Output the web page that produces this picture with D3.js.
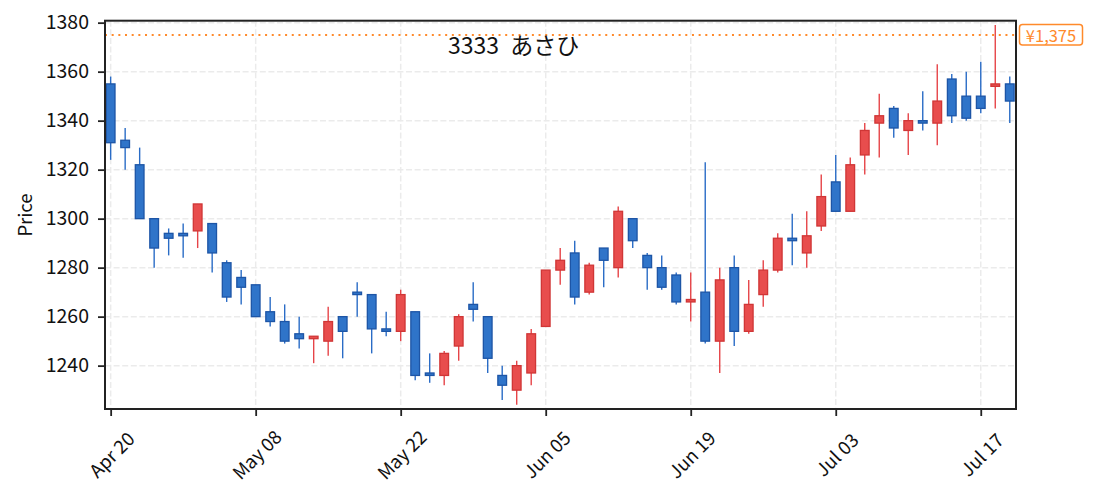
<!DOCTYPE html>
<html>
<head>
<meta charset="utf-8">
<script src="https://cdn.jsdelivr.net/npm/d3@7"></script>
<style>
  html, body { margin: 0; padding: 0; background: #fff; }
  text { font-family: 'Noto Sans CJK JP', 'Noto Sans', sans-serif; fill: #111; }
</style>
</head>
<body>
<div id="chart"></div>
<script>
// trading days, Apr 20 - Jul 21 (2020)
const dates = [
  '2020-04-20', '2020-04-21', '2020-04-22', '2020-04-23', '2020-04-24', '2020-04-27', '2020-04-28', '2020-04-30',
  '2020-05-01', '2020-05-07', '2020-05-08', '2020-05-11', '2020-05-12', '2020-05-13', '2020-05-14', '2020-05-15',
  '2020-05-18', '2020-05-19', '2020-05-20', '2020-05-21', '2020-05-22', '2020-05-25', '2020-05-26', '2020-05-27',
  '2020-05-28', '2020-05-29', '2020-06-01', '2020-06-02', '2020-06-03', '2020-06-04', '2020-06-05', '2020-06-08',
  '2020-06-09', '2020-06-10', '2020-06-11', '2020-06-12', '2020-06-15', '2020-06-16', '2020-06-17', '2020-06-18',
  '2020-06-19', '2020-06-22', '2020-06-23', '2020-06-24', '2020-06-25', '2020-06-26', '2020-06-29', '2020-06-30',
  '2020-07-01', '2020-07-02', '2020-07-03', '2020-07-06', '2020-07-07', '2020-07-08', '2020-07-09', '2020-07-10',
  '2020-07-13', '2020-07-14', '2020-07-15', '2020-07-16', '2020-07-17', '2020-07-20', '2020-07-21'
]
const open = [
  1355, 1332, 1322, 1300, 1294, 1294, 1295, 1298, 1282, 1276, 1273, 1262, 1258, 1253, 1251, 1250,
  1260, 1270, 1269, 1255, 1254, 1262, 1237, 1236, 1248, 1265, 1260, 1236, 1230, 1237, 1256, 1279,
  1286, 1270, 1288, 1280, 1300, 1285, 1280, 1277, 1266, 1270, 1250, 1280, 1254, 1269, 1279, 1292,
  1286, 1297, 1315, 1303, 1326, 1339, 1345, 1336, 1340, 1339, 1357, 1350, 1350, 1354, 1355
]
const high = [
  1358, 1337, 1329, 1300, 1296, 1298, 1306, 1298, 1283, 1279, 1273, 1268, 1265, 1260, 1252, 1264,
  1260, 1274, 1269, 1262, 1271, 1262, 1245, 1246, 1261, 1274, 1260, 1240, 1242, 1255, 1279, 1288,
  1291, 1282, 1288, 1305, 1300, 1286, 1285, 1278, 1278, 1323, 1280, 1285, 1275, 1283, 1294, 1302,
  1303, 1318, 1326, 1325, 1339, 1351, 1346, 1343, 1352, 1363, 1359, 1360, 1364, 1379, 1358
]
const low = [
  1324, 1320, 1300, 1280, 1285, 1284, 1288, 1278, 1266, 1265, 1260, 1256, 1249, 1247, 1241, 1244,
  1243, 1260, 1245, 1252, 1250, 1234, 1233, 1232, 1242, 1258, 1237, 1226, 1224, 1232, 1256, 1273,
  1265, 1269, 1272, 1276, 1288, 1271, 1271, 1265, 1258, 1249, 1237, 1248, 1253, 1264, 1278, 1281,
  1280, 1295, 1303, 1303, 1318, 1325, 1333, 1326, 1336, 1330, 1339, 1340, 1343, 1345, 1339
]
const close = [
  1331, 1329, 1300, 1288, 1292, 1293, 1306, 1286, 1268, 1272, 1260, 1258, 1250, 1251, 1252, 1258,
  1254, 1269, 1255, 1254, 1269, 1236, 1236, 1245, 1260, 1263, 1243, 1232, 1240, 1253, 1279, 1283,
  1268, 1281, 1283, 1303, 1291, 1280, 1272, 1266, 1267, 1250, 1275, 1254, 1265, 1279, 1292, 1291,
  1293, 1309, 1303, 1322, 1336, 1342, 1337, 1340, 1339, 1348, 1342, 1341, 1345, 1355, 1348
]
const yTicks = [1240, 1260, 1280, 1300, 1320, 1340, 1360, 1380]
const xTickIndex = [0, 10, 20, 30, 40, 50, 60]
const refPrice = 1375
const title = '3333 あさひ'

const W = 1095
const H = 499
const plot = { left: 105, right: 1016, top: 20.7, bottom: 409 }

const parse = d3.timeParse('%Y-%m-%d')
const fmt = d3.timeFormat('%b %d')
const data = dates.map((d, i) => ({
  i, date: parse(d), o: open[i], h: high[i], l: low[i], c: close[i]
}))

const x = d3.scaleLinear()
  .domain([-0.39, data.length - 0.57])
  .range([plot.left, plot.right])

const y = d3.scaleLinear()
  .domain([1222.3, 1380.8])
  .range([plot.bottom, plot.top])

const bodyW = (x(1) - x(0)) * 0.6

const col = {
  up: { fill: '#e84d4d', edge: '#d03636', wick: '#e64448' },
  down: { fill: '#2f74c9', edge: '#1d55a6', wick: '#2a6cc6' }
}

const svg = d3.select('#chart').append('svg')
  .attr('width', W)
  .attr('height', H)

// grid
const grid = svg.append('g').attr('class', 'grid')
grid.selectAll('line.h')
  .data(yTicks)
  .join('line')
  .attr('x1', plot.left).attr('x2', plot.right)
  .attr('y1', d => y(d)).attr('y2', d => y(d))
  .attr('stroke', '#ebebeb')
  .attr('stroke-width', 1.5)
  .attr('stroke-dasharray', '6,2.6')
grid.selectAll('line.v')
  .data(xTickIndex)
  .join('line')
  .attr('x1', d => x(d)).attr('x2', d => x(d))
  .attr('y1', plot.top).attr('y2', plot.bottom)
  .attr('stroke', '#ebebeb')
  .attr('stroke-width', 1.5)
  .attr('stroke-dasharray', '6,2.6')

// reference price line
svg.append('line')
  .attr('x1', plot.left).attr('x2', plot.right)
  .attr('y1', y(refPrice)).attr('y2', y(refPrice))
  .attr('stroke', '#ff8a2b')
  .attr('stroke-width', 2)
  .attr('stroke-dasharray', '2,4.67')

// title
svg.append('text')
  .attr('x', 448)
  .attr('y', 54)
  .style('font-size', '23px')
  .style('word-spacing', '6px')
  .text(title)

// candles
const candles = svg.append('g').attr('class', 'candles')
const side = d => d.c >= d.o ? col.up : col.down

candles.selectAll('line.wick')
  .data(data)
  .join('line')
  .attr('class', 'wick')
  .attr('x1', d => x(d.i)).attr('x2', d => x(d.i))
  .attr('y1', d => y(d.h)).attr('y2', d => y(d.l))
  .attr('stroke', d => side(d).wick)
  .attr('stroke-width', 1.4)

candles.selectAll('rect.body')
  .data(data)
  .join('rect')
  .attr('class', 'body')
  .attr('x', d => x(d.i) - bodyW / 2)
  .attr('width', bodyW)
  .attr('y', d => y(Math.max(d.o, d.c)))
  .attr('height', d => Math.max(1.2, Math.abs(y(d.o) - y(d.c))))
  .attr('fill', d => side(d).fill)
  .attr('stroke', d => side(d).edge)
  .attr('stroke-width', 1.3)

// axes
const yAxis = d3.axisLeft(y)
  .tickValues(yTicks)
  .tickFormat(d3.format('d'))
  .tickSize(7)
  .tickPadding(9)
const gy = svg.append('g')
  .attr('transform', `translate(${plot.left},0)`)
  .call(yAxis)
gy.select('.domain').remove()
gy.selectAll('.tick line').attr('stroke', '#222').attr('stroke-width', 1.8)
gy.selectAll('.tick text').style('font-size', '19.5px').attr('fill', '#111')

const xAxis = d3.axisBottom(x)
  .tickValues(xTickIndex)
  .tickFormat(i => fmt(data[i].date))
  .tickSize(7)
const gx = svg.append('g')
  .attr('transform', `translate(0,${plot.bottom})`)
  .call(xAxis)
gx.select('.domain').remove()
gx.selectAll('.tick line').attr('stroke', '#222').attr('stroke-width', 1.8)
gx.selectAll('.tick text')
  .style('font-size', '18.5px')
  .attr('fill', '#111')
  .attr('text-anchor', 'middle')
  .attr('dominant-baseline', 'central')
  .attr('x', 0)
  .attr('y', 0)
  .attr('dy', null)
  .attr('transform', 'translate(0,45) rotate(-45)')

// frame
svg.append('rect')
  .attr('x', plot.left).attr('y', plot.top)
  .attr('width', plot.right - plot.left)
  .attr('height', plot.bottom - plot.top)
  .attr('fill', 'none')
  .attr('stroke', '#222')
  .attr('stroke-width', 2)

// y label
svg.append('text')
  .attr('transform', `translate(32,215) rotate(-90)`)
  .attr('text-anchor', 'middle')
  .style('font-size', '18.5px')
  .text('Price')

// price tag
const tag = svg.append('g')
  .attr('transform', `translate(1019.5,${y(refPrice)})`)
tag.append('rect')
  .attr('x', 0).attr('y', -10.5)
  .attr('width', 63).attr('height', 20.5)
  .attr('rx', 3)
  .attr('fill', '#fff')
  .attr('stroke', '#ff8a2b')
  .attr('stroke-width', 1.5)
tag.append('text')
  .attr('x', 31.5).attr('y', 0.5)
  .attr('text-anchor', 'middle')
  .attr('dominant-baseline', 'central')
  .style('font-size', '16.5px')
  .style('fill', '#ff8a2b')
  .text('¥' + d3.format(',')(refPrice))
</script>
</body>
</html>
